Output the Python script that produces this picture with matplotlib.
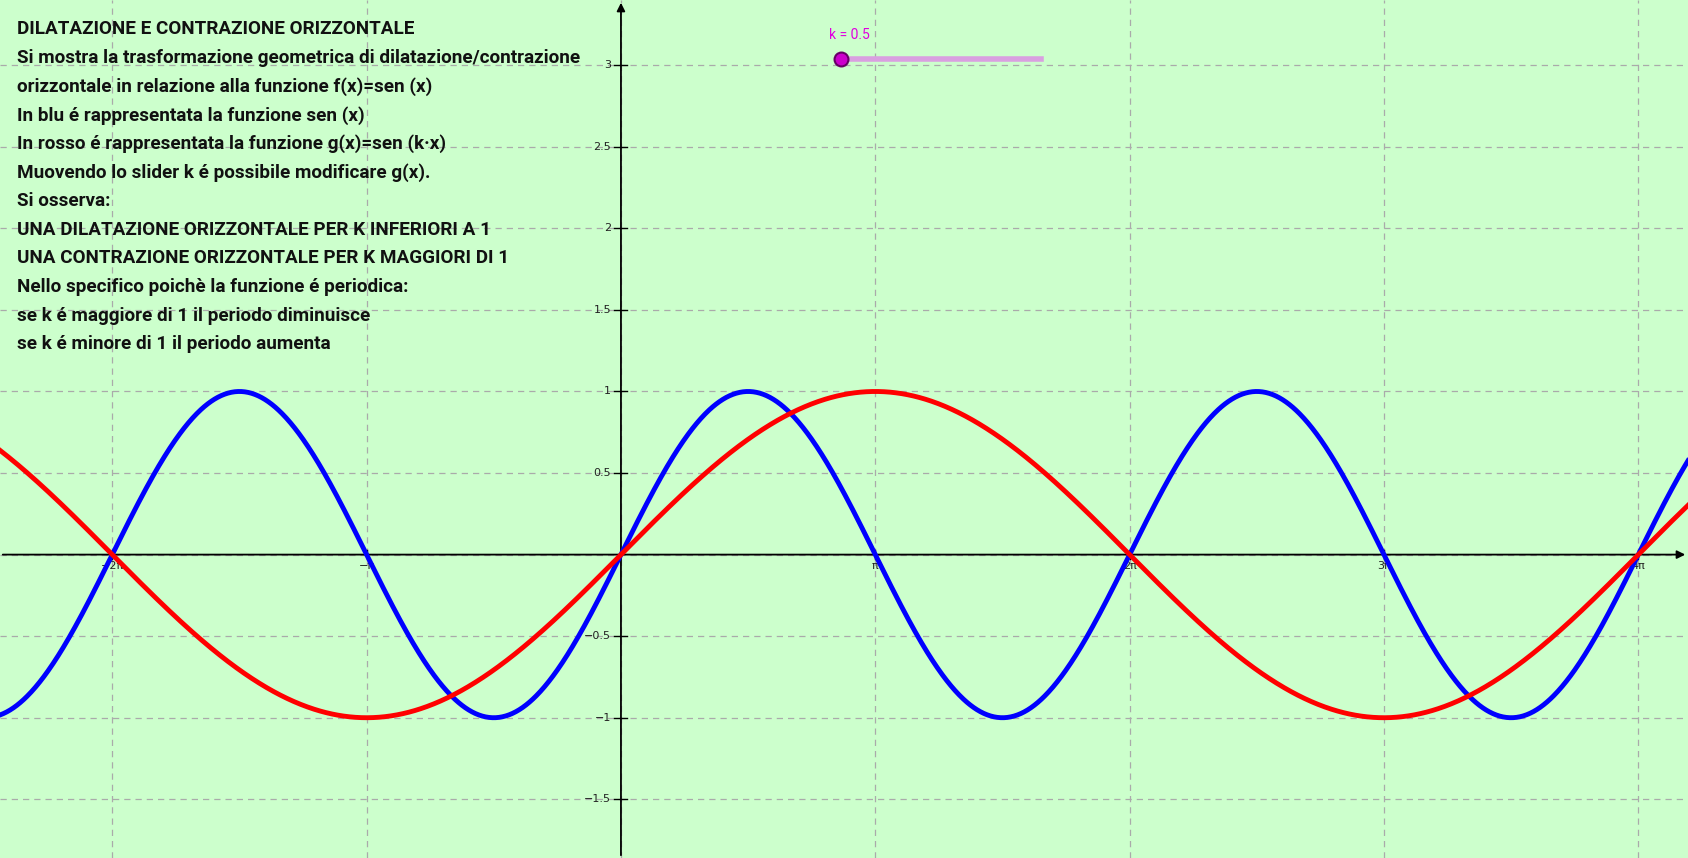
import numpy as np
import matplotlib.pyplot as plt

k = 0.5
x_min, x_max = -7.67, 13.18
y_min, y_max = -1.86, 3.40
x_ticks = [-2, -1, 1, 2, 3, 4]
x_tick_labels = ["\u22122\u03c0", "\u2212\u03c0", "\u03c0", "2\u03c0", "3\u03c0", "4\u03c0"]
y_ticks = [-1.5, -1, -0.5, 0.5, 1, 1.5, 2, 2.5, 3]
y_tick_labels = ["\u22121.5", "\u22121", "\u22120.5", "0.5", "1", "1.5", "2", "2.5", "3"]
text_lines = [
    "DILATAZIONE E CONTRAZIONE ORIZZONTALE",
    "Si mostra la trasformazione geometrica di dilatazione/contrazione",
    "orizzontale in relazione alla funzione f(x)=sen (x)",
    "In blu é rappresentata la funzione sen (x)",
    "In rosso é rappresentata la funzione g(x)=sen (k\u00b7x)",
    "Muovendo lo slider k é possibile modificare g(x).",
    "Si osserva:",
    "UNA DILATAZIONE ORIZZONTALE PER K INFERIORI A 1",
    "UNA CONTRAZIONE ORIZZONTALE PER K MAGGIORI DI 1",
    "Nello specifico poichè la funzione é periodica:",
    "se k é maggiore di 1 il periodo diminuisce",
    "se k é minore di 1 il periodo aumenta",
]

fig = plt.figure(figsize=(16.88, 8.58), dpi=100)
ax = fig.add_axes([0, 0, 1, 1])
ax.set_facecolor("#ccffcc")
ax.set_xlim(x_min, x_max)
ax.set_ylim(y_min, y_max)
for s in ax.spines.values():
    s.set_visible(False)
ax.set_xticks([])
ax.set_yticks([])

# grid
for t in range(-2, 5):
    ax.axvline(t * np.pi, color="#aaaaaa", lw=0.9, ls=(0, (5, 4)), zorder=1)
for yv in np.arange(-1.5, 3.51, 0.5):
    ax.axhline(yv, color="#aaaaaa", lw=0.9, ls=(0, (5, 4)), zorder=1)

# axes
ax.annotate("", xy=(x_max, 0), xytext=(x_min, 0),
            arrowprops=dict(arrowstyle="-|>", color="black", lw=1.3, mutation_scale=12), zorder=2)
ax.annotate("", xy=(0, y_max), xytext=(0, y_min),
            arrowprops=dict(arrowstyle="-|>", color="black", lw=1.3, mutation_scale=12), zorder=2)
for t, lab in zip(x_ticks, x_tick_labels):
    ax.plot([t * np.pi] * 2, [-0.03, 0.03], color="black", lw=1, zorder=2)
    ax.text(t * np.pi, -0.04, lab, ha="center", va="top", fontsize=8, color="#222222", zorder=2)
for yv, lab in zip(y_ticks, y_tick_labels):
    ax.plot([-0.08, 0.08], [yv, yv], color="black", lw=1, zorder=2)
    ax.text(-0.12, yv, lab, ha="right", va="center", fontsize=8, color="#222222", zorder=2)

# curves
x = np.linspace(x_min, x_max, 2000)
ax.plot(x, np.sin(x), color="blue", lw=3.5, zorder=3)
ax.plot(x, np.sin(k * x), color="red", lw=3.5, zorder=4)

# text block
for i, line in enumerate(text_lines):
    fig.text(0.0102, 0.966 - i * 0.0334, line, ha="left", va="center",
             fontsize=13.6, family="Roboto", weight="bold", color="#111111")

# slider
fig.text(0.491, 0.955, "k = 0.5", color="#e000e0", fontsize=10, family="Roboto", ha="left")
fig.add_artist(plt.Line2D([0.498, 0.617], [0.931, 0.931], color="#d9a0e0", lw=4))
fig.add_artist(plt.Line2D([0.498], [0.931], marker="o", ms=10, mfc="#cc00cc", mec="#660066", mew=1.5))

fig.savefig("out.png", dpi=100)
